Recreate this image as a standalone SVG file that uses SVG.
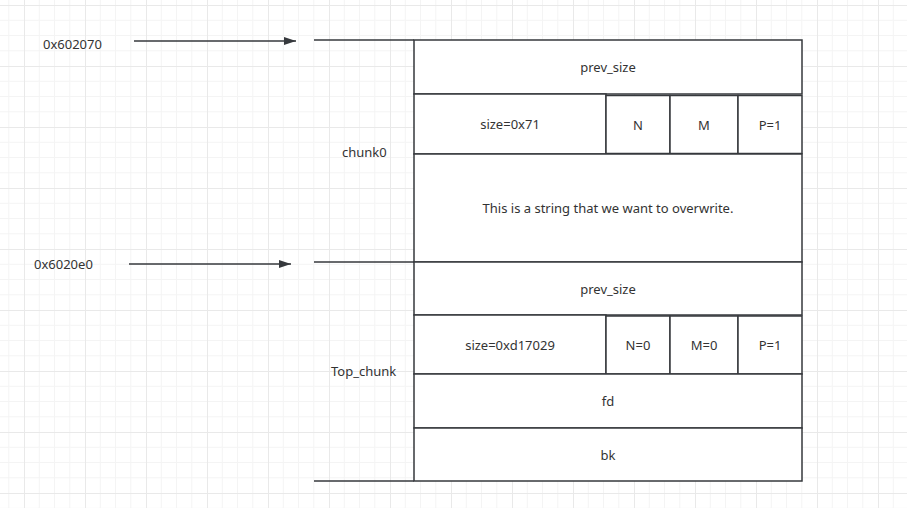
<svg xmlns="http://www.w3.org/2000/svg" width="907" height="508" viewBox="0 0 907 508">
  <defs>
    <pattern id="grid" x="24" y="5" width="61" height="61" patternUnits="userSpaceOnUse">
      <path d="M15.25 0V61M30.5 0V61M45.75 0V61M0 15.25H61M0 30.5H61M0 45.75H61" stroke="#f4f4f4" stroke-width="1" fill="none"/>
      <path d="M0.5 0V61M0 0.5H61" stroke="#e9e9e9" stroke-width="1" fill="none"/>
    </pattern>
    <marker id="arrow" viewBox="0 0 12 8" refX="12" refY="4" markerWidth="12" markerHeight="8" markerUnits="userSpaceOnUse" orient="auto">
      <path d="M0 0L12 4L0 8Z" fill="#36393d"/>
    </marker>
    <style>
      .box { fill: #ffffff; stroke: #36393d; stroke-width: 1.5; }
      .line { stroke: #36393d; stroke-width: 1.5; fill: none; }
      .lbl { font-family: "Noto Sans", "Open Sans", sans-serif; font-size: 13px; fill: #333333; text-anchor: middle; dominant-baseline: central; }
      .side { font-family: "Noto Sans", "Open Sans", sans-serif; font-size: 13px; fill: #333333; dominant-baseline: central; }
    </style>
  </defs>
  <rect width="907" height="508" fill="#ffffff"/>
  <rect width="907" height="508" fill="url(#grid)"/>

  <g id="labels">
    <text class="side" x="43" y="44">0x602070</text>
    <text class="side" x="34" y="264">0x6020e0</text>
    <text class="side" x="342" y="152">chunk0</text>
    <text class="side" x="331" y="371">Top_chunk</text>
  </g>

  <g id="chunk0">
    <rect id="c0-prev" class="box" x="414" y="40" width="388" height="54"/>
    <text class="lbl" x="608" y="67">prev_size</text>
    <rect id="c0-size" class="box" x="414" y="94" width="192" height="60"/>
    <text class="lbl" x="510" y="124">size=0x71</text>
    <rect id="c0-n" class="box" x="606" y="95.5" width="64" height="58"/>
    <text class="lbl" x="638" y="125">N</text>
    <rect id="c0-m" class="box" x="670" y="95.5" width="68" height="58"/>
    <text class="lbl" x="704" y="125">M</text>
    <rect id="c0-p" class="box" x="738" y="95.5" width="64" height="58"/>
    <text class="lbl" x="770" y="125">P=1</text>
    <rect id="c0-data" class="box" x="414" y="154" width="388" height="108"/>
    <text class="lbl" x="608" y="208">This is a string that we want to overwrite.</text>
  </g>

  <g id="top_chunk">
    <rect id="t-prev" class="box" x="414" y="262" width="388" height="53"/>
    <text class="lbl" x="608" y="288.5">prev_size</text>
    <rect id="t-size" class="box" x="414" y="315" width="192" height="59"/>
    <text class="lbl" x="510" y="344.5">size=0xd17029</text>
    <rect id="t-n" class="box" x="606" y="316" width="64" height="58"/>
    <text class="lbl" x="638" y="345">N=0</text>
    <rect id="t-m" class="box" x="670" y="316" width="68" height="58"/>
    <text class="lbl" x="704" y="345">M=0</text>
    <rect id="t-p" class="box" x="738" y="316" width="64" height="58"/>
    <text class="lbl" x="770" y="345">P=1</text>
    <rect id="t-fd" class="box" x="414" y="374" width="388" height="54"/>
    <text class="lbl" x="608" y="401">fd</text>
    <rect id="t-bk" class="box" x="414" y="428" width="388" height="53"/>
    <text class="lbl" x="608" y="454.5">bk</text>
  </g>

  <g id="connectors">
    <path class="line" d="M134 41H296" marker-end="url(#arrow)"/>
    <path class="line" d="M129 264H291" marker-end="url(#arrow)"/>
    <path class="line" d="M314 40H414"/>
    <path class="line" d="M314 262H414"/>
    <path class="line" d="M314 481H414"/>
  </g>
</svg>
